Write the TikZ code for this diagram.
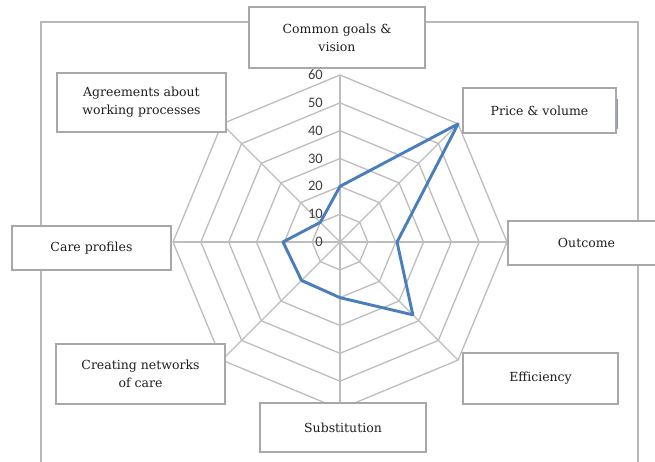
\documentclass[tikz,border=0pt]{standalone}
\usepackage{fontspec}
\setmainfont{DejaVu Serif}
\newfontfamily\tickfont{Carlito}
\definecolor{gridc}{HTML}{BDBDBD}
\definecolor{framec}{HTML}{B8B8B8}
\definecolor{boxc}{HTML}{A9A7A8}
\definecolor{datac}{HTML}{4A7EBB}
\definecolor{markc}{HTML}{8496B0}
\definecolor{textc}{HTML}{1F1F1F}
\definecolor{tickc}{HTML}{404040}
\tikzset{
  gridline/.style={draw=gridc, line width=1.3pt},
  frameline/.style={draw=framec, line width=1.8pt},
  databox/.style={draw=boxc, line width=2.2pt, fill=white, text=textc, align=center,
    font=\fontsize{12.5}{18}\selectfont, inner sep=0pt},
  tick/.style={text=tickc, font=\tickfont\fontsize{14.5}{15}\selectfont, inner sep=0pt, anchor=east},
  dataline/.style={draw=datac, line width=2.9pt, line join=round}
}
\begin{document}
\begin{tikzpicture}[x=1pt,y=-1pt]
\clip (0,0) rectangle (655,461);
\fill[white] (0,0) rectangle (655,461);
% outer frame
\draw[frameline] (41,22) rectangle (638,480);
% radar grid
\begin{scope}[shift={(340,242)}, yscale=-1]
  \coordinate (c) at (0,0);
  \foreach \k in {1,...,6}{
    \pgfmathsetmacro{\r}{\k*167/6}
    \draw[gridline] (90:\r) -- (45:\r) -- (0:\r) -- (-45:\r) -- (-90:\r) -- (-135:\r) -- (180:\r) -- (135:\r) -- cycle;
  }
  \foreach \a in {90,45,0,-45,-90,-135,180,135}{
    \draw[gridline] (c) -- (\a:167);
  }
  \def\s{2.78333}
  \draw[dataline] (90:20*\s) -- (45:60*\s) -- (0:20.5*\s) -- (-45:37*\s) -- (-90:20*\s) -- (-135:19.5*\s) -- (180:20.5*\s) -- (135:10*\s) -- cycle;
\end{scope}
% tick labels
\foreach \k in {0,...,6}{
  \pgfmathsetmacro{\yy}{242-\k*167/6}
  \pgfmathtruncatemacro{\lab}{10*\k}
  \node[tick] (t\k) at (323,\yy) {\lab};
}
% small mark right of price box
\coordinate (m1) at (617,99);
\coordinate (m2) at (617,129);
\draw[draw=markc, line width=1.6pt] (m1) -- (m2);
% category boxes
\node[databox, minimum width=176pt, minimum height=61pt] (goals) at (337,37.5) {Common goals \&\\vision};
\node[databox, minimum width=169pt, minimum height=59pt] (agree) at (141.5,102.5) {Agreements about\\working processes};
\node[databox, minimum width=153pt, minimum height=45pt] (price) at (539.5,110.5) {Price \& volume};
\node[databox, minimum width=157pt, minimum height=44pt] (outcome) at (586.5,243) {Outcome};
\node[databox, minimum width=155pt, minimum height=51pt] (eff) at (540.5,378.5) {Efficiency};
\node[databox, minimum width=166pt, minimum height=49pt] (subst) at (343,427.5) {Substitution};
\node[databox, minimum width=169pt, minimum height=60pt] (netw) at (140.5,374) {Creating networks\\of care};
\node[databox, minimum width=159pt, minimum height=44pt] (care) at (91.5,248) {Care profiles};
\end{tikzpicture}
\end{document}
